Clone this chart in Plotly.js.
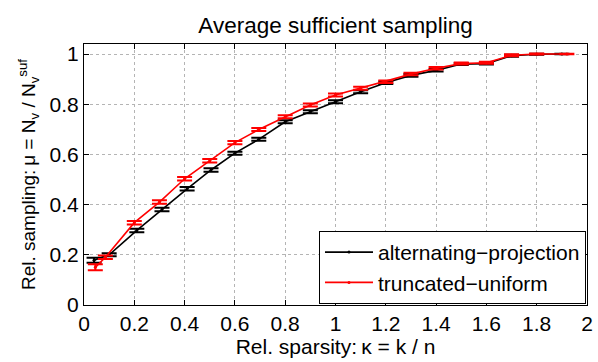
<!DOCTYPE html>
<html>
<head>
<meta charset="utf-8">
<script src="https://cdn.plot.ly/plotly-3.0.1.min.js"></script>
<style>
  html, body { margin: 0; padding: 0; background: #fff; }
  #chart { width: 598px; height: 362px; }
</style>
</head>
<body>
<div id="chart"></div>
<script>
/* ---- Data ---- */
const seriesNames = ['alternating\u2212projection', 'truncated\u2212uniform'];

const altX   = [0.04, 0.10, 0.21, 0.31, 0.41, 0.505, 0.60, 0.695, 0.80, 0.90, 1.00, 1.10, 1.20, 1.30, 1.40, 1.50, 1.60, 1.70, 1.80, 1.90];
const altY   = [0.178, 0.200, 0.297, 0.381, 0.463, 0.538, 0.605, 0.660, 0.730, 0.770, 0.810, 0.850, 0.886, 0.915, 0.935, 0.960, 0.962, 0.993, 0.999, 1.000];
const altErr = [0.010, 0.006, 0.007, 0.007, 0.007, 0.007, 0.006, 0.006, 0.006, 0.006, 0.006, 0.006, 0.005, 0.005, 0.005, 0.004, 0.004, 0.004, 0.002, 0.001];

const truX   = [0.045, 0.085, 0.20, 0.30, 0.40, 0.50, 0.60, 0.695, 0.80, 0.90, 1.00, 1.10, 1.20, 1.30, 1.40, 1.50, 1.60, 1.70, 1.80, 1.92];
const truY   = [0.150, 0.190, 0.328, 0.410, 0.503, 0.575, 0.647, 0.699, 0.750, 0.797, 0.837, 0.864, 0.890, 0.920, 0.943, 0.962, 0.965, 0.995, 1.000, 1.000];
const truErr = [0.012, 0.007, 0.007, 0.007, 0.007, 0.007, 0.006, 0.006, 0.006, 0.006, 0.006, 0.006, 0.005, 0.005, 0.005, 0.004, 0.004, 0.004, 0.002, 0.001];

const xTicks = [0, 0.2, 0.4, 0.6, 0.8, 1, 1.2, 1.4, 1.6, 1.8, 2];
const yTicks = [0, 0.2, 0.4, 0.6, 0.8, 1];

/* ---- Style ---- */
const FONT = 'Liberation Sans, Arial, Helvetica, sans-serif';
const FS = 21;

function mkTrace(x, y, err, name, color) {
  return {
    x, y, name,
    type: 'scatter',
    mode: 'lines+markers',
    line: { color, width: 1.6 },
    marker: { color, size: 3 },
    error_y: { type: 'data', array: err, visible: true, color, thickness: 2, width: 7.5 },
  };
}

const traces = [
  mkTrace(altX, altY, altErr, seriesNames[0], '#000000'),
  mkTrace(truX, truY, truErr, seriesNames[1], '#ff0000'),
];

const axisBase = {
  showline: true, linecolor: '#000', linewidth: 1, mirror: 'ticks',
  ticks: 'inside', ticklen: 5, tickcolor: '#000',
  showgrid: true, gridcolor: '#b4b4b4', griddash: 'dot', gridwidth: 1,
  zeroline: false,
  tickfont: { family: FONT, size: FS, color: '#000' },
};

const layout = {
  width: 598, height: 362,
  paper_bgcolor: '#fff', plot_bgcolor: '#fff',
  font: { family: FONT, size: FS, color: '#000' },
  margin: { l: 84, r: 11, t: 44, b: 57 },
  showlegend: true,
  title: {
    text: 'Average sufficient sampling',
    font: { family: FONT, size: 22.5, color: '#000' },
    x: 0.5, xref: 'paper', xanchor: 'center',
    y: 1, yref: 'paper', yanchor: 'bottom', pad: { b: 11 },
  },
  xaxis: Object.assign({}, axisBase, {
    range: [0, 2], tickvals: xTicks,
    title: { text: 'Rel. sparsity:\u2009\u03ba = k / n', font: { family: FONT, size: FS }, standoff: 3 },
  }),
  yaxis: Object.assign({}, axisBase, {
    range: [0, 1.04], tickvals: yTicks,
    title: { text: 'Rel. sampling:\u2009\u03bc = N<sub>v</sub> / N<sub>v</sub><sup>suf</sup>', font: { family: FONT, size: 19 }, standoff: 8 },
  }),
  legend: {
    x: 0.998, y: 0.004, xanchor: 'right', yanchor: 'bottom',
    bgcolor: '#fff', bordercolor: '#000', borderwidth: 1,
    font: { family: FONT, size: FS, color: '#000' },
    itemwidth: 48,
    tracegroupgap: 0,
  },
};

Plotly.newPlot('chart', traces, layout, { displayModeBar: false, staticPlot: true });
</script>
</body>
</html>
